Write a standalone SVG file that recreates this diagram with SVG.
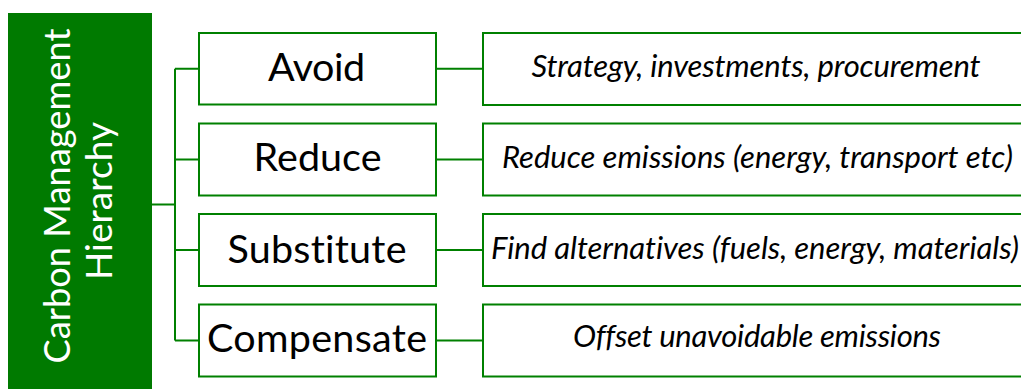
<svg xmlns="http://www.w3.org/2000/svg" width="1021" height="389" viewBox="0 0 1021 389">
<style>
.box{fill:#fff;stroke:#008000;stroke-width:2}
.conn{fill:none;stroke:#008000;stroke-width:2}
text{font-family:Lato,"Liberation Sans",sans-serif;font-variant-ligatures:none;text-anchor:middle}
.lbl{font-size:39.5px;fill:#000}
.desc{font-style:italic;font-size:31px;fill:#000}
.title{font-size:37px;fill:#fff}
</style>
<rect width="1021" height="389" fill="#fff"/>
<g id="connectors">
<path class="conn" d="M152 204.5H175M175 68.7V340.5M175 68.7H199M175 159.5H199M175 250H199M175 340.5H199"/>
<path class="conn" d="M436 68.7H483M436 159.5H483M436 250H483M436 340.5H483"/>
</g>
<g id="root">
<rect x="8" y="13" width="144" height="380" fill="#007A00"/>
<text class="title" transform="translate(70 196) rotate(-90)" textLength="335" lengthAdjust="spacingAndGlyphs">Carbon Management</text>
<text class="title" transform="translate(112 201) rotate(-90)" textLength="158" lengthAdjust="spacingAndGlyphs">Hierarchy</text>
</g>
<g id="avoid"><rect class="box" x="199" y="33" width="237" height="71.5"/><text class="lbl" x="316.5" y="81" textLength="97">Avoid</text></g>
<g id="reduce"><rect class="box" x="199" y="123.5" width="237" height="72"/><text class="lbl" x="317.5" y="170.5" textLength="128">Reduce</text></g>
<g id="substitute"><rect class="box" x="199" y="214" width="237" height="72"/><text class="lbl" x="317" y="262.5" textLength="179">Substitute</text></g>
<g id="compensate"><rect class="box" x="199" y="304.5" width="237" height="72"/><text class="lbl" x="317" y="352" textLength="220">Compensate</text></g>
<g id="avoid-desc"><rect class="box" x="483" y="33" width="560" height="72"/><text class="desc" x="756" y="77" textLength="449">Strategy, investments, procurement</text></g>
<g id="reduce-desc"><rect class="box" x="483" y="123.5" width="560" height="72"/><text class="desc" x="757.5" y="168" textLength="511">Reduce emissions (energy, transport etc)</text></g>
<g id="substitute-desc"><rect class="box" x="483" y="214" width="560" height="72"/><text class="desc" x="755" y="258.5" textLength="528">Find alternatives (fuels, energy, materials)</text></g>
<g id="compensate-desc"><rect class="box" x="483" y="304.5" width="560" height="72"/><text class="desc" x="757" y="347" textLength="368">Offset unavoidable emissions</text></g>
</svg>
